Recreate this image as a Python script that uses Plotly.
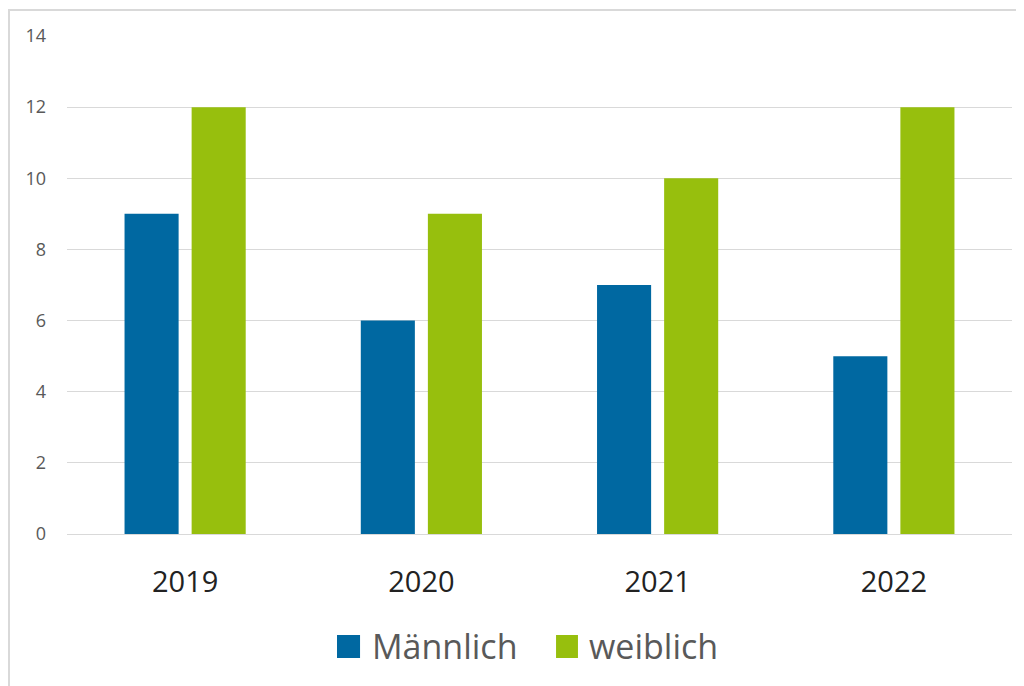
import plotly.graph_objects as go

years = ["2019", "2020", "2021", "2022"]
maennlich = [9, 6, 7, 5]
weiblich = [12, 9, 10, 12]
y_ticks = [0, 2, 4, 6, 8, 10, 12, 14]
series_names = ["Männlich", "weiblich"]

blue = "#0068A1"
green = "#97BF0D"
gray_text = "#595959"
font_family = "Open Sans, Liberation Sans, sans-serif"

fig = go.Figure()
fig.add_trace(go.Bar(x=years, y=maennlich, name=series_names[0], marker_color=blue,
                     marker_line_width=0))
fig.add_trace(go.Bar(x=years, y=weiblich, name=series_names[1], marker_color=green,
                     marker_line_width=0))

# Legend drawn as square swatches + labels (to match large legend squares)
legend_items = [
    (series_names[0], blue, 0.2857, 0.3101, 0.3206),
    (series_names[1], green, 0.5175, 0.5407, 0.5502),
]
shapes = [dict(type="rect", xref="paper", yref="paper",
               x0=-0.0614, x1=1.03, y0=-0.33, y1=1.052,
               line=dict(color="#D9D9D9", width=2), fillcolor="rgba(0,0,0,0)")]
annotations = []
for name, col, sx0, sx1, tx in legend_items:
    shapes.append(dict(type="rect", xref="paper", yref="paper",
                       x0=sx0, x1=sx1, y0=-0.249, y1=-0.2028,
                       line=dict(width=0), fillcolor=col))
    annotations.append(dict(xref="paper", yref="paper", x=tx, y=-0.2259,
                            xanchor="left", yanchor="middle", showarrow=False,
                            text=name, font=dict(size=34, color=gray_text,
                                                 family=font_family)))

fig.update_layout(
    width=1016, height=678,
    margin=dict(l=59, r=12, t=28, b=152, autoexpand=False),
    paper_bgcolor="white", plot_bgcolor="white",
    barmode="group", bargap=0.432, bargroupgap=0.194,
    font=dict(family=font_family, color=gray_text),
    showlegend=False,
    xaxis=dict(showgrid=False, showline=True, linecolor="#D9D9D9", linewidth=1,
               tickfont=dict(size=29, color="#222222"), ticks="",
               ticklabelstandoff=22, automargin=False),
    yaxis=dict(range=[0, 14], tickvals=y_ticks, showgrid=True, gridcolor="#D9D9D9",
               gridwidth=1, zeroline=False, showline=False, ticks="",
               tickfont=dict(size=18, color=gray_text), ticklabelstandoff=20,
               automargin=False),
    shapes=shapes,
    annotations=annotations,
)

fig.write_html("out.html")
